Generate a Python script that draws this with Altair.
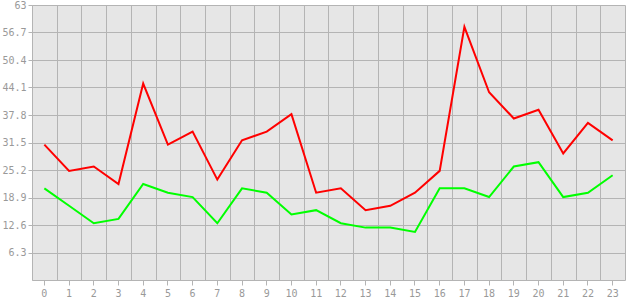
import altair as alt
import pandas as pd

hours = list(range(24))
red_values = [31, 25, 26, 22, 45, 31, 34, 23, 32, 34, 38, 20, 21, 16, 17, 20, 25, 58, 43, 37, 39, 29, 36, 32]
green_values = [21, 17, 13, 14, 22, 20, 19, 13, 21, 20, 15, 16, 13, 12, 12, 11, 21, 21, 19, 26, 27, 19, 20, 24]
y_ticks = [6.3, 12.6, 18.9, 25.2, 31.5, 37.8, 44.1, 50.4, 56.7, 63]

df = pd.DataFrame({
    "hour": hours * 2,
    "value": red_values + green_values,
    "series": ["red"] * 24 + ["green"] * 24,
})

font = "DejaVu Sans Mono"
label_color = "#999999"
grid_color = "#b4b4b4"

xscale = alt.Scale(type="band", paddingInner=0, paddingOuter=0)
yscale = alt.Scale(domain=[0, 63], nice=False, zero=True)

yaxis = alt.Axis(values=y_ticks, format=".1~f", title=None, grid=True,
                 gridColor=grid_color, gridOpacity=1, tickSize=4,
                 tickColor=grid_color, domainColor=grid_color,
                 labelColor=label_color, labelFont=font, labelFontSize=10,
                 labelPadding=2, labelOverlap=False, tickCount=10)

base = alt.Chart(df)

grid_layer = base.mark_line(opacity=0).encode(
    x=alt.X("hour:O", scale=xscale, bandPosition=0.5,
            axis=alt.Axis(orient="bottom", grid=True, tickBand="extent", labels=False,
                          ticks=False, domain=False, title=None, gridColor=grid_color,
                          gridOpacity=1)),
    y=alt.Y("value:Q", scale=yscale, axis=yaxis),
    detail="series:N",
)

lines = base.mark_line(strokeWidth=2).encode(
    x=alt.X("hour:O", scale=xscale, bandPosition=0.5,
            axis=alt.Axis(orient="bottom", grid=False, labelAngle=0, title=None, tickSize=5,
                          tickColor=grid_color, domainColor=grid_color,
                          labelColor=label_color, labelFont=font, labelFontSize=10,
                          labelPadding=3, labelOverlap=False)),
    y=alt.Y("value:Q", scale=yscale, axis=yaxis),
    color=alt.Color("series:N",
                    scale=alt.Scale(domain=["red", "green"], range=["#ff0000", "#00ff00"]),
                    legend=None),
)

chart = alt.layer(grid_layer, lines).resolve_axis(x="independent").properties(
    width=593,
    height=275,
    autosize=alt.AutoSizeParams(type="none"),
    padding={"left": 32, "top": 5, "right": 5, "bottom": 20},
    background="white",
).configure_view(fill="#e6e6e6", stroke=None)

chart.save("out.html", embed_options={"renderer": "svg", "actions": False})
